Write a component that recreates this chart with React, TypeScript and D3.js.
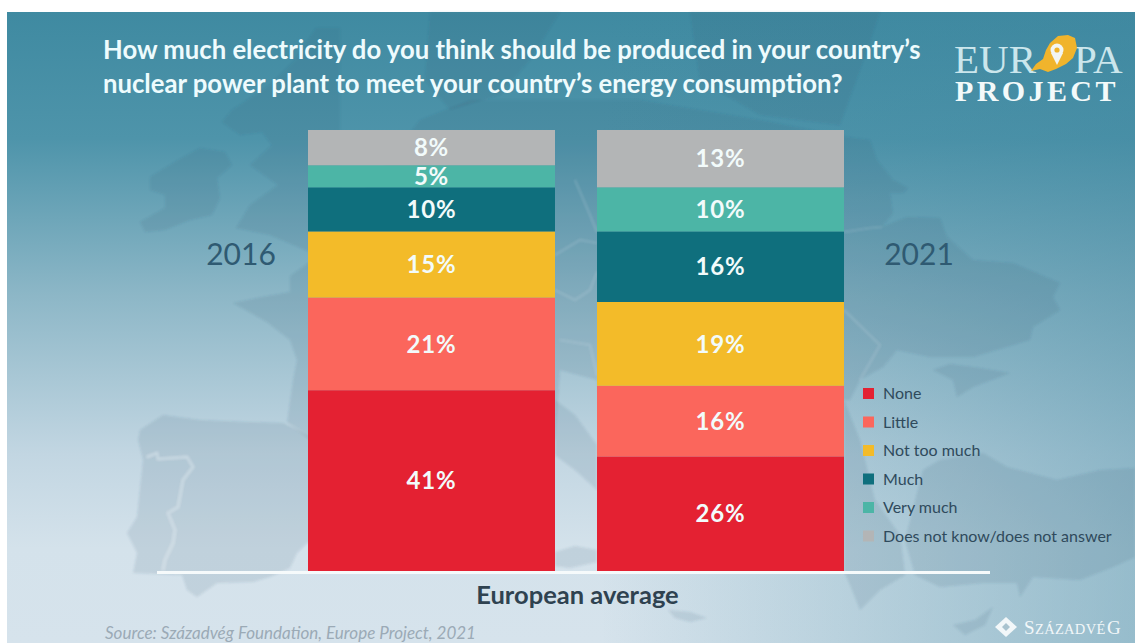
import * as d3 from "d3";

// Survey answers, bottom of the stack first
const answers = ["None", "Little", "Not too much", "Much", "Very much", "Does not know/does not answer"];
const years = ["2016", "2021"];
const shares2016 = [41, 21, 15, 10, 5, 8];
const shares2021 = [26, 16, 19, 16, 10, 13];
const answerColors = ["#e42132", "#fb665c", "#f3bb29", "#0f6f7d", "#4cb5a6", "#b3b5b6"];

const titleLines = [
  "How much electricity do you think should be produced in your country’s",
  "nuclear power plant to meet your country’s energy consumption?",
];

// Stylised land masses for the backdrop
const landShapes = [
  // Ireland
  "M150,177 L178,160 L200,148 L225,152 L232,165 L217,178 L220,198 L212,215 L190,220 L165,230 L145,232 L140,222 L165,208 L165,195 L150,190 Z",
  // Great Britain
  "M316,28 L295,60 L270,85 L232,110 L222,122 L240,135 L262,132 L272,145 L250,165 L278,185 L250,205 L236,228 L270,235 L310,252 L340,252 L340,28 Z",
  // France and the continent behind the bars
  "M233,303 L262,297 L290,292 L290,276 L310,262 L420,120 L470,100 L640,100 L760,120 L847,137 L870,140 L877,160 L893,180 L908,188 L903,193 L890,193 L893,213 L882,227 L907,217 L940,218 L947,237 L973,260 L1013,263 L1060,283 L1053,297 L1060,310 L1033,327 L1030,340 L973,357 L930,357 L897,350 L883,367 L860,380 L850,400 L600,400 L597,380 L560,370 L555,440 L310,440 L287,423 L293,380 L297,360 L290,340 L267,322 Z",
  // Iberia
  "M140,430 L163,415 L200,420 L247,422 L283,423 L320,440 L320,543 L307,543 L297,553 L290,568 L270,577 L253,582 L217,583 L197,597 L187,590 L182,575 L133,573 L137,553 L127,533 L137,517 L143,460 L138,440 Z",
  // Italy
  "M555,400 L575,415 L597,445 L597,490 L575,470 L555,455 Z",
  // Sicily
  "M555,552 L575,546 L597,550 L597,562 L570,568 L555,566 Z",
  // Crimea
  "M933,370 L953,380 L957,397 L973,387 L1010,373 L980,368 L950,364 Z",
  // Balkans and Greece
  "M844,400 L860,440 L875,500 L900,535 L905,575 L880,590 L860,610 L850,585 L844,571 Z",
  // Anatolia
  "M923,470 L940,460 L983,453 L1007,467 L1057,480 L1100,470 L1135,468 L1135,557 L1113,567 L1080,580 L1033,577 L1020,597 L1017,583 L983,583 L940,587 L915,575 L905,540 Z",
  // Cyprus
  "M953,625 L975,620 L993,607 L985,625 L965,635 Z",
  // Crete
  "M668,610 L690,612 L707,618 L690,622 L675,618 Z",
  // Scandinavia
  "M430,12 L560,12 L530,60 L500,95 L450,110 L425,80 Z M690,12 L880,12 L860,70 L840,125 L760,115 L700,80 Z",
];

// The Portuguese border reads clearly on the pale lower half
const iberianBorder =
  "M147,457 L157,453 L158,459 L187,457 L193,467 L183,480 L178,507 L168,513 L175,530 L173,543 L165,560 L163,570";

// Fainter national borders in the middle of the continent
const centralBorders = [
  "M287,423 L310,437",
  "M844,310 L880,345 L860,380",
  "M844,232 L870,228 L882,227",
  "M555,255 L580,240 L597,243",
  "M555,290 L575,300 L590,290 L597,272",
  "M560,340 L590,345 L597,375",
  "M575,180 L590,215 L597,232",
];

// Outline of the yellow continent in the logo
const logoContinent =
  "M1031,71 L1036,64 L1043,59 L1046,50 L1050,43 L1058,36 L1068,35 L1075,38 L1077,48 L1073,58 L1066,64 L1056,69 L1048,72 L1040,69 Z";

const WIDTH = 1135;
const HEIGHT = 643;
const BAR_WIDTH = 247;

const sans = "Lato, 'Open Sans', sans-serif";
const serif = "'Liberation Serif', serif";

export default function App() {
  const y = d3.scaleLinear().domain([0, 100]).range([571, 130]);
  const x = d3.scaleOrdinal<string, number>().domain(years).range([308, 597]);

  // Each bar stacks the answers for its own year
  const sharesByYear = [shares2016, shares2021];
  const stacks = years.map((year, yi) => ({
    year,
    series: d3.stack<any>().keys(answers)([
      Object.fromEntries(answers.map((answer, i) => [answer, sharesByYear[yi][i]])),
    ]),
  }));

  const legendY = d3.scalePoint<string>().domain(answers).range([393.5, 536]);

  return (
    <div style={{ position: "fixed", inset: 0, background: "#fff" }}>
      <svg width={WIDTH} height={HEIGHT} style={{ display: "block" }}>
        <defs>
          <linearGradient id="sky" x1="0" y1="0" x2="0" y2="1">
            <stop offset="0" stopColor="#3f8aa1" />
            <stop offset="0.2" stopColor="#4e94aa" />
            <stop offset="0.45" stopColor="#8db7c7" />
            <stop offset="0.7" stopColor="#c2d6e2" />
            <stop offset="0.85" stopColor="#d4e2eb" />
            <stop offset="1" stopColor="#d6e3ec" />
          </linearGradient>
          <linearGradient id="eastShade" x1="0" y1="0" x2="1" y2="0">
            <stop offset="0" stopColor="#3f87a0" stopOpacity="0" />
            <stop offset="1" stopColor="#3f87a0" stopOpacity="0.42" />
          </linearGradient>
          <filter id="soft" x="-5%" y="-5%" width="110%" height="110%">
            <feGaussianBlur stdDeviation="1.2" />
          </filter>
        </defs>

        <rect x={7} y={12} width={WIDTH - 7} height={HEIGHT - 12} fill="url(#sky)" />
        <rect x={600} y={12} width={WIDTH - 600} height={HEIGHT - 12} fill="url(#eastShade)" />

        <g filter="url(#soft)">
          {landShapes.map((d, i) => (
            <path key={i} d={d} fill="#33556e" fillOpacity={0.12} />
          ))}
          <path d={iberianBorder} fill="none" stroke="#e4eff4" strokeOpacity={0.6} strokeWidth={1.4} />
          {centralBorders.map((d, i) => (
            <path key={i} d={d} fill="none" stroke="#e4eff4" strokeOpacity={0.22} strokeWidth={1.2} />
          ))}
        </g>

        <g fontFamily={sans} fontWeight={700} fontSize={25.7} fill="#eefbfd">
          {titleLines.map((line, i) => (
            <text key={i} x={103} y={59 + i * 34}>
              {line}
            </text>
          ))}
        </g>

        {/* Logo */}
        <g>
          <text x={954} y={73} fontFamily={serif} fontSize={41} fill="#cbe6ec">EUR</text>
          <text x={1074} y={73} fontFamily={serif} fontSize={41} fill="#cbe6ec">PA</text>
          <path d={logoContinent} fill="#f0b42c" />
          <circle cx={1057} cy={50} r={6.5} fill="#f2f5f2" />
          <path d="M1051,53 L1057,65 L1063,53 Z" fill="#f2f5f2" />
          <circle cx={1057} cy={50} r={2.6} fill="#f0b42c" />
          <text x={955} y={101} fontFamily={serif} fontWeight={700} fontSize={30} letterSpacing={3.4} fill="#f3fafa">
            PROJECT
          </text>
        </g>

        {/* Stacked bars */}
        {stacks.map(({ year, series }) =>
          series.map((s, i) => {
            const [y0, y1] = s[0];
            const top = y(y1);
            const bottom = y(y0);
            return (
              <g key={`${year}-${s.key}`}>
                <rect x={x(year)} y={top} width={BAR_WIDTH} height={bottom - top} fill={answerColors[i]} />
                <text
                  x={x(year) + BAR_WIDTH / 2}
                  y={(top + bottom) / 2}
                  dy="0.36em"
                  textAnchor="middle"
                  fontFamily={sans}
                  fontWeight={700}
                  fontSize={24}
                  letterSpacing={0.8}
                  fill="#f2fbfb"
                >
                  {`${y1 - y0}%`}
                </text>
              </g>
            );
          })
        )}

        <rect x={157} y={571} width={833} height={3} fill="#f6fafb" />

        {/* Year labels */}
        <g fontFamily={sans} fontSize={30} fill="#2f5a72">
          <text x={241} y={254} dy="0.36em" textAnchor="middle">{years[0]}</text>
          <text x={919} y={254} dy="0.36em" textAnchor="middle">{years[1]}</text>
        </g>

        {/* Legend */}
        <g>
          {answers.map((answer, i) => (
            <g key={answer}>
              <rect x={863} y={legendY(answer)! - 5.5} width={11} height={11} fill={answerColors[i]} />
              <text x={883} y={legendY(answer)!} dy="0.35em" fontFamily={sans} fontSize={16} fill="#2f4a5c">
                {answer}
              </text>
            </g>
          ))}
        </g>

        <text x={577.5} y={604} textAnchor="middle" fontFamily={sans} fontWeight={700} fontSize={25.5} fill="#2f4250">
          European average
        </text>
        <text x={105} y={639} fontFamily={sans} fontStyle="italic" fontSize={17} fill="#9baab6">
          Source: Századvég Foundation, Europe Project, 2021
        </text>

        {/* Foundation mark */}
        <g>
          <path d="M1006,617 L1017,627 L1006,637 L995,627 Z" fill="#f2f7f9" />
          <path d="M1006,623 L1010,627 L1006,631 L1002,627 Z" fill="#a9c3cf" />
          <text x={1024} y={634} fontFamily={serif} fontSize={19} fill="#f2f7f9">S</text>
          <text x={1035} y={634} fontFamily={serif} fontSize={14.5} fill="#f2f7f9" letterSpacing={0.3}>ZÁZADVÉ</text>
          <text x={1107} y={634} fontFamily={serif} fontSize={19} fill="#f2f7f9">G</text>
        </g>
      </svg>
    </div>
  );
}
